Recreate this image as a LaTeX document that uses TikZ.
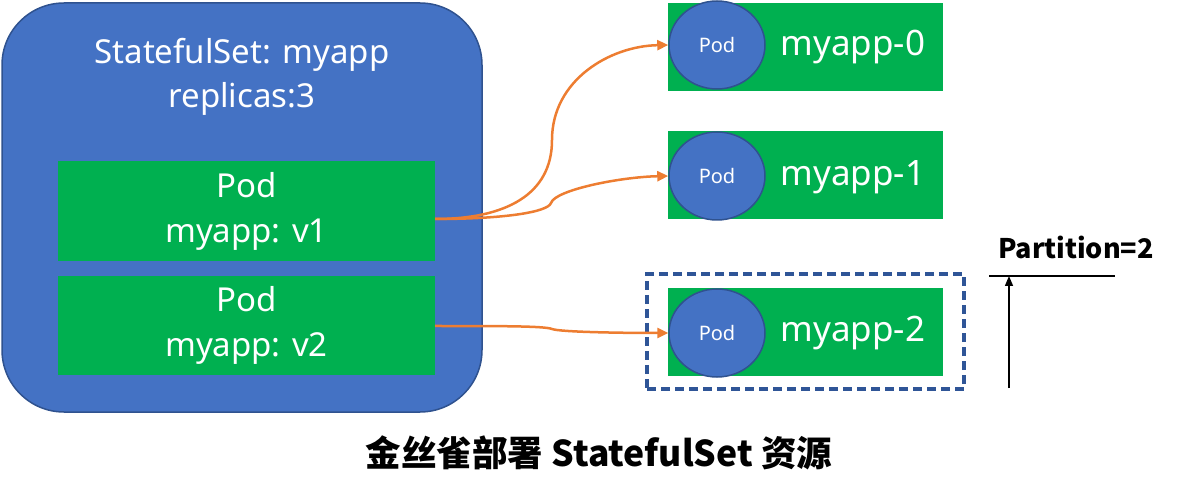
\documentclass[tikz,border=0pt]{standalone}
\usepackage{fontspec}
\setmainfont{Noto Sans}
\newfontfamily\cjk{Noto Sans CJK SC}
\usepackage{tikz}
\usetikzlibrary{shapes,arrows.meta,positioning}
\definecolor{stsblue}{HTML}{4472C4}
\definecolor{stsedge}{HTML}{2F528F}
\definecolor{podgreen}{HTML}{00B050}
\definecolor{linkorange}{HTML}{ED7D31}
\definecolor{canaryblue}{HTML}{2F5597}
\tikzstyle{podbox} = [rectangle, fill=podgreen, inner sep=0pt, text=white, align=center, font=\fontsize{33}{45}\selectfont]
\tikzstyle{podball} = [ellipse, fill=stsblue, draw=stsedge, line width=1.5pt, minimum width=96pt, minimum height=88pt, inner sep=0pt, text=white, font=\fontsize{20}{24}\selectfont]
\tikzstyle{podname} = [text=white, font=\fontsize{35}{40}\selectfont]
\tikzstyle{link} = [linkorange, line width=2.5pt, -{Triangle[length=11pt,width=10pt]}]

\begin{document}
\begin{tikzpicture}[x=1pt, y=-1pt]
    \useasboundingbox (0,0) rectangle (1179,497);

    % statefulset
    \node (sts) [rectangle, rounded corners=62pt, minimum width=480pt, minimum height=409pt, fill=stsblue, draw=stsedge, line width=1.5pt] at (242,207.5) {};
    \node (stsname) [text=white, font=\fontsize{33}{40}\selectfont] at (242,55) {StatefulSet: myapp};
    \node (stsrep) [text=white, font=\fontsize{33}{40}\selectfont] at (242,99) {replicas:3};
    \node (v1) [podbox, minimum width=377pt, minimum height=100pt] at (246.5,211) {Pod\\myapp: v1};
    \node (v2) [podbox, minimum width=377pt, minimum height=99pt] at (246.5,325.5) {Pod\\myapp: v2};

    % replicas
    \node (r0) [rectangle, fill=podgreen, minimum width=275pt, minimum height=88pt] at (805.5,47) {};
    \node (r1) [rectangle, fill=podgreen, minimum width=275pt, minimum height=88pt] at (805.5,175) {};
    \node (r2) [rectangle, fill=podgreen, minimum width=275pt, minimum height=88pt] at (805.5,332) {};
    \node (c0) [podball] at (717,45) {Pod};
    \node (c1) [podball] at (717,176) {Pod};
    \node (c2) [podball] at (717,333) {Pod};
    \node (l0) [podname] at (853,47) {myapp-0};
    \node (l1) [podname] at (853,177) {myapp-1};
    \node (l2) [podname] at (853,333) {myapp-2};
    \node (canary) [rectangle, draw=canaryblue, line width=3.5pt, dash pattern=on 9pt off 5pt, minimum width=317pt, minimum height=115pt] at (805.5,331.5) {};

    \draw[link] ([yshift=-8pt]v1.east) .. controls (505,219) and (552,195) .. (552,140) .. controls (552,80) and (610,46) .. (c0.west);
    \draw[link] ([yshift=-8pt]v1.east) .. controls (505,219) and (548,212) .. (551,203) .. controls (555,190) and (620,177) .. (c1.west);
    \draw[link] ([yshift=-0.5pt]v2.east) .. controls (500,326) and (545,326) .. (552,329) .. controls (560,332) and (620,333) .. (c2.west);

    % partition
    \node (part) [font=\cjk\bfseries\fontsize{27}{30}\selectfont] at (1076,247) {Partition=2};
    \coordinate (pl) at (989,276);
    \coordinate (pr) at (1115,276);
    \coordinate (pbot) at (1009,388);
    \coordinate (ptop) at (1009,276);
    \draw[line width=2.5pt] (pl) -- (pr);
    \draw[line width=1.5pt, -{Triangle[length=10pt,width=8pt]}] (pbot) -- (ptop);

    \node (title) [font=\cjk\bfseries\fontsize{35.5}{40}\selectfont] at (599,453) {金丝雀部署 StatefulSet 资源};
\end{tikzpicture}
\end{document}
